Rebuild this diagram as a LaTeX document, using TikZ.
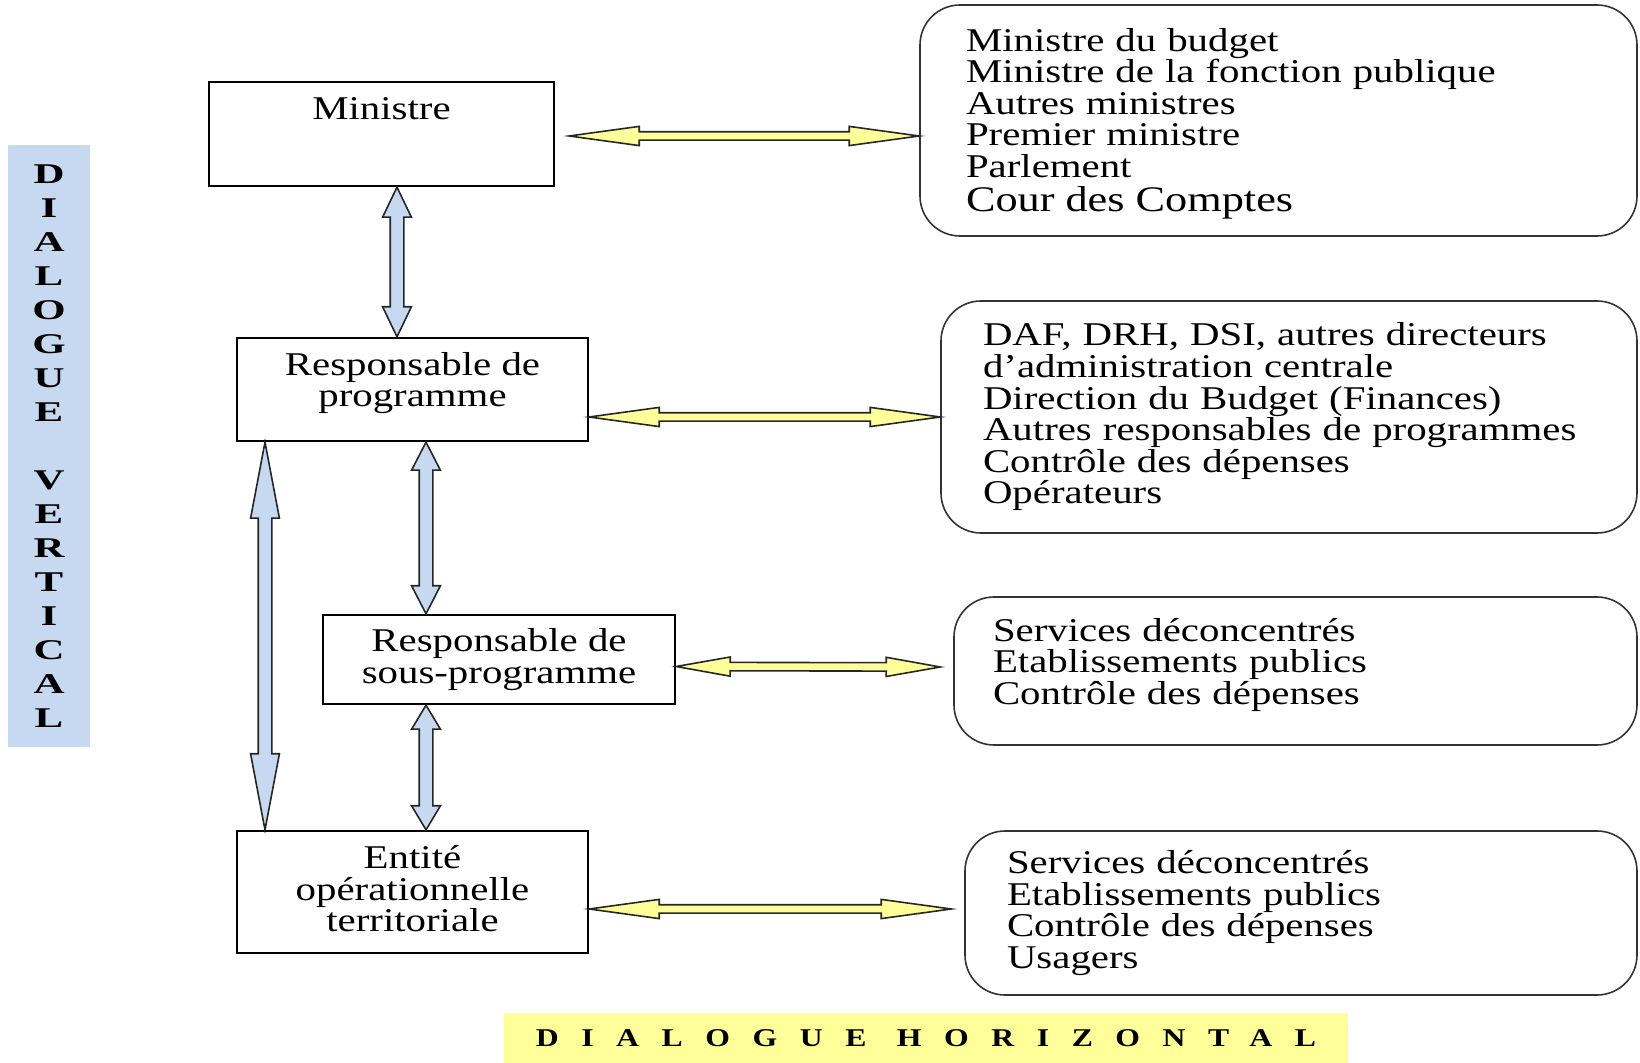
\documentclass[tikz,border=0pt]{standalone}
\usepackage{fontspec}
\setmainfont{Liberation Serif}[FakeStretch=1.23]
\newfontfamily\vertfamily{Liberation Serif Bold}
\newfontfamily\horizfamily{Liberation Serif Bold}[LetterSpace=71]
\usetikzlibrary{calc}

\definecolor{paleyellow}{HTML}{FFFF99}
\definecolor{paleblue}{HTML}{C6D9F1}
\definecolor{arrowline}{HTML}{262626}

\newcommand{\boxfont}{\fontsize{16.6pt}{15.8pt}\selectfont}
\newcommand{\bigline}{\fontsize{18pt}{15.8pt}\selectfont}
\newcommand{\vlabelfont}{\vertfamily\fontsize{14.3pt}{17pt}\selectfont}
\newcommand{\hlabelfont}{\horizfamily\fontsize{12.8pt}{15pt}\selectfont}

% block arrow with two heads: fill, head length, head half width, shaft half width, from, to
\newcommand{\dblarrow}[6]{%
  \filldraw[fill=#1, draw=arrowline, line width=0.8pt, line join=miter]
    (#5) -- ($(#5)!#2!(#6)!#3!90:(#6)$) -- ($(#5)!#2!(#6)!#4!90:(#6)$)
    -- ($(#6)!#2!(#5)!#4!-90:(#5)$) -- ($(#6)!#2!(#5)!#3!-90:(#5)$)
    -- (#6) -- ($(#6)!#2!(#5)!#3!90:(#5)$) -- ($(#6)!#2!(#5)!#4!90:(#5)$)
    -- ($(#5)!#2!(#6)!#4!-90:(#6)$) -- ($(#5)!#2!(#6)!#3!-90:(#6)$) -- cycle;}

\begin{document}
\begin{tikzpicture}[x=0.5pt,y=-0.5pt,
    box/.style={draw, line width=1.2pt, align=center, font=\boxfont},
    partner/.style={draw=black!80, line width=0.8pt, rounded corners=20pt,
      align=left, inner xsep=22pt, font=\boxfont}]
    \useasboundingbox (0,0) rectangle (1640,1063);

    % vertical chain
    \node[box, minimum width=172.5pt, minimum height=52pt, inner ysep=0pt,
      text height=19pt, text depth=33pt] (min) at (381.5,134) {Ministre};
    \node[box, minimum width=175.5pt, minimum height=51.5pt, text depth=9.9pt] (rp) at (412.5,389.5) {Responsable de\\programme};
    \node[box, minimum width=176pt, minimum height=44.5pt] (rsp) at (499,659.5) {Responsable de\\sous-programme};
    \node[box, minimum width=175.5pt, minimum height=61pt, text depth=3.2pt] (ent) at (412.5,892) {Entité\\opérationnelle\\territoriale};

    % partners
    \node[partner, minimum width=358.5pt, minimum height=115.5pt, inner xsep=23pt, text width=312.5pt,
      text height=14.5pt] (part1) at (1278.5,120.5)
      {Ministre du budget\\Ministre de la fonction publique\\Autres ministres\\Premier ministre\\Parlement\\[1pt]{\bigline Cour des Comptes}};
    \node[partner, minimum width=348pt, minimum height=116pt, inner xsep=21pt, text width=306pt] (part2) at (1289,417)
      {DAF, DRH, DSI, autres directeurs\\d’administration centrale\\Direction du Budget (Finances)\\Autres responsables de programmes\\Contrôle des dépenses\\Opérateurs};
    \node[partner, minimum width=341.5pt, minimum height=74pt, inner xsep=19.5pt, text width=302.5pt,
      text depth=41.5pt] (part3) at (1295.5,671)
      {Services déconcentrés\\Etablissements publics\\Contrôle des dépenses};
    \node[partner, minimum width=336pt, minimum height=82pt, inner xsep=21pt, text width=294pt] (part4) at (1301,913)
      {Services déconcentrés\\Etablissements publics\\Contrôle des dépenses\\Usagers};

    % titles
    \begin{scope}[shift={(49,446)}, xscale=1.5, transform shape]
      \node[fill=paleblue, minimum width=27.3pt, minimum height=301pt, align=center, font=\vlabelfont] (vert) at (0,0)
        {D\\I\\A\\L\\O\\G\\U\\E\\[17pt]V\\E\\R\\T\\I\\C\\A\\L};
    \end{scope}
    \begin{scope}[shift={(926,1038)}, xscale=1.24, transform shape]
      \node[fill=paleyellow, minimum width=340.3pt, minimum height=25pt, font=\hlabelfont] (horiz) at (0,0)
        {DIALOGUE HORIZONTAL};
    \end{scope}

    % horizontal dialogue
    \coordinate (h1a) at ($(min.east)+(14,2)$);
    \coordinate (h1b) at (h1a -| part1.west);
    \coordinate (h2a) at (rp.east |- part2.west);
    \coordinate (h2b) at (part2.west);
    \coordinate (h3a) at ($(rsp.east)+(0,7)$);
    \coordinate (h3b) at ($(part3.west)+(-13,-4)$);
    \coordinate (h4a) at ($(ent.east)+(0,17)$);
    \coordinate (h4b) at ($(part4.west)+(-13,-4)$);
    \dblarrow{paleyellow}{35pt}{4.8pt}{2.1pt}{h1a}{h1b}
    \dblarrow{paleyellow}{35pt}{4.8pt}{2.1pt}{h2a}{h2b}
    \dblarrow{paleyellow}{27pt}{4.8pt}{2.1pt}{h3a}{h3b}
    \dblarrow{paleyellow}{35pt}{4.8pt}{2.1pt}{h4a}{h4b}

    % vertical dialogue
    \coordinate (v1a) at ($(min.south)+(15.5,0)$);
    \coordinate (v1b) at (v1a |- rp.north);
    \coordinate (v2a) at ($(rp.south)+(13.5,0)$);
    \coordinate (v2b) at (v2a |- rsp.north);
    \coordinate (v3a) at ($(rsp.south)+(-73,0)$);
    \coordinate (v3b) at (v3a |- ent.north);
    \coordinate (v4a) at ($(rp.south)+(-147.5,0)$);
    \coordinate (v4b) at (v4a |- ent.north);
    \dblarrow{paleblue}{15pt}{7.2pt}{3.4pt}{v1a}{v1b}
    \dblarrow{paleblue}{14pt}{7.2pt}{3.4pt}{v2a}{v2b}
    \dblarrow{paleblue}{12pt}{7.2pt}{3.4pt}{v3a}{v3b}
    \dblarrow{paleblue}{38pt}{7.2pt}{3.4pt}{v4a}{v4b}
\end{tikzpicture}
\end{document}
